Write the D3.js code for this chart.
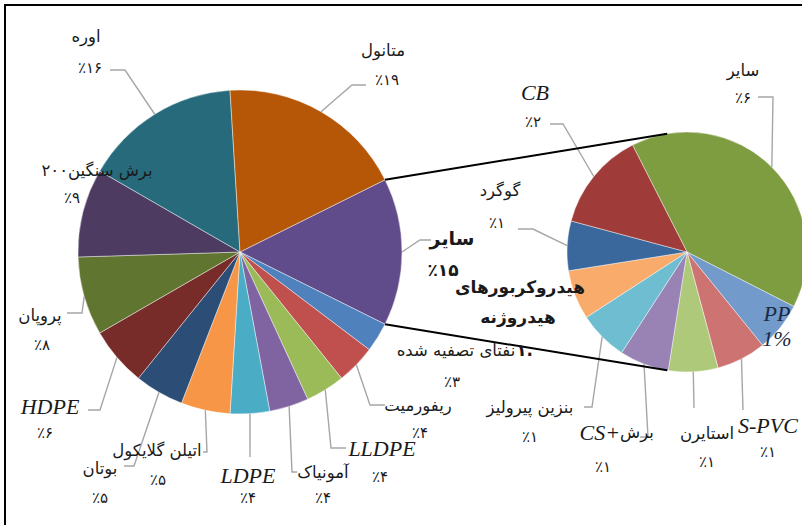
<!DOCTYPE html>
<html>
<head>
<meta charset="utf-8">
<script src="https://cdn.jsdelivr.net/npm/d3@7"></script>
<style>
  html, body { margin: 0; padding: 0; background: #fff; }
  svg { display: block; }
</style>
</head>
<body>
<svg id="chart"></svg>
<script>
const width = 802;
const height = 525;

// main pie, clockwise starting from the grouped slice
const mainNames = ["سایر", "نفتای تصفیه شده", "ریفورمیت", "LLDPE", "آمونیاک", "LDPE",
    "اتیلن گلایکول", "بوتان", "HDPE", "پروپان", "برش سنگین۲۰۰", "اوره", "متانول"];
const mainValues = [15, 3, 4, 4, 4, 4, 5, 5, 6, 8, 9, 16, 19];

// secondary pie (breakdown of the grouped slice), clockwise
const subNames = ["سایر", "PP", "S-PVC", "استایرن", "برش+CS", "بنزین پیرولیز",
    "هیدروکربورهای هیدروژنه", "گوگرد", "CB"];
const subValues = [6, 1, 1, 1, 1, 1, 1, 1, 2];

const mainColors = ["#604B8B", "#4F81BD", "#C0504D", "#9BBB59", "#8064A2", "#4BACC6",
    "#F79646", "#2C4D75", "#772C2A", "#5F7530", "#4D3B62", "#276A7C", "#B65708"];
const subColors = ["#7E9C40", "#729ACA", "#CD7371", "#AFC97A", "#9983B5", "#6FBDD1",
    "#F9AB6B", "#3A679C", "#9F3B38"];

const faDigits = "۰۱۲۳۴۵۶۷۸۹";
const fa = n => String(n).replace(/\d/g, d => faDigits[d]);
const pctText = v => "٪" + fa(v);

const rad = deg => deg * Math.PI / 180;

// label layout (centre of name line, centre of percent line, leader elbow points)
const mainLabelPos = [
    { name: [452, 238], pct: [443, 270], bold: true, leader: [[431, 240], [420, 240]] },
    { name: [456, 350], pct: [452, 382], leader: null },
    { name: [418, 405], pct: [420, 433], leader: [[385, 405], [370, 405]] },
    { name: [382, 448], pct: [380, 477], latin: true, leader: [[346, 448], [331, 448]] },
    { name: [323, 472], pct: [323, 498], leader: [[297, 472], [292, 472]] },
    { name: [248, 475], pct: [248, 498], latin: true, leader: [[250, 457]] },
    { name: [157, 450], pct: [158, 480], leader: [[203, 452], [207, 452]] },
    { name: [100, 468], pct: [100, 498], leader: [[124, 466], [134, 466]] },
    { name: [50, 406], pct: [45, 433], latin: true, leader: [[88, 410], [100, 410]] },
    { name: [40, 315], pct: [42, 345], leader: [[67, 313], [82, 313]] },
    { name: [97, 170], pct: [72, 198], leader: null },
    { name: [86, 36], pct: [90, 68], leader: [[110, 70], [125, 70]] },
    { name: [383, 50], pct: [387, 80], leader: [[366, 85], [352, 85]] }
];
const subLabelPos = [
    { name: [743, 70], pct: [743, 98], leader: [[758, 97], [773, 97]] },
    { name: [777, 313], pct: [777, 338], latin: true, inside: true, leader: null },
    { name: [768, 425], pct: [768, 452], latin: true, leader: [[743, 410]] },
    { name: [707, 433], pct: [707, 462], leader: [[694, 408]] },
    { name: [608, 432], pct: [603, 467], mixed: true, leader: [[640, 437], [648, 437]] },
    { name: [530, 407], pct: [530, 437], leader: [[584, 407], [592, 407]] },
    { name: [520, 287], pct: [533, 350], bold: true, split: true, leader: null },
    { name: [500, 190], pct: [497, 223], leader: [[518, 229], [533, 229]] },
    { name: [535, 92], pct: [533, 122], latin: true, leader: [[550, 124], [563, 124]] }
];

const svg = d3.select("#chart")
    .attr("width", width)
    .attr("height", height);

svg.append("rect")
    .attr("width", width).attr("height", height)
    .attr("fill", "#fff");

const mainCenter = [240, 252], mainR = 162;
const subCenter = [687, 252], subR = 120;

const mainTotal = d3.sum(mainValues);
const mainStart = Math.PI / 2 - (mainValues[0] / mainTotal) * Math.PI;
const subStart = rad(-27);

const mainArcs = d3.pie().sort(null)
    .startAngle(mainStart).endAngle(mainStart + 2 * Math.PI)(mainValues);
const subArcs = d3.pie().sort(null)
    .startAngle(subStart).endAngle(subStart + 2 * Math.PI)(subValues);

const mainArc = d3.arc().innerRadius(0).outerRadius(mainR);
const subArc = d3.arc().innerRadius(0).outerRadius(subR);
const mainEdge = d3.arc().innerRadius(mainR).outerRadius(mainR);
const subEdge = d3.arc().innerRadius(subR).outerRadius(subR);

const gMain = svg.append("g").attr("transform", `translate(${mainCenter})`);
gMain.selectAll("path")
    .data(mainArcs)
    .join("path")
    .attr("d", mainArc)
    .attr("fill", (d, i) => mainColors[i])
    .attr("stroke", "rgba(255,255,255,0.55)")
    .attr("stroke-width", 0.8);

const gSub = svg.append("g").attr("transform", `translate(${subCenter})`);
gSub.selectAll("path")
    .data(subArcs)
    .join("path")
    .attr("d", subArc)
    .attr("fill", (d, i) => subColors[i])
    .attr("stroke", "rgba(255,255,255,0.55)")
    .attr("stroke-width", 0.8);

// leader lines
const line = d3.line();
function drawLeaders(arcs, pos, edge, center) {
    arcs.forEach((d, i) => {
        const p = pos[i];
        if (!p.leader) return;
        const c = edge.centroid(d);
        const pts = p.leader.concat([[c[0] + center[0], c[1] + center[1]]]);
        svg.append("path")
            .attr("d", line(pts))
            .attr("fill", "none")
            .attr("stroke", "#A6A6A6")
            .attr("stroke-width", 1.4);
    });
}
drawLeaders(mainArcs, mainLabelPos, mainEdge, mainCenter);
drawLeaders(subArcs, subLabelPos, subEdge, subCenter);

// connector lines between grouped slice and secondary pie
const grp = mainArcs[0];
const pOnMain = a => [mainCenter[0] + mainR * Math.sin(a), mainCenter[1] - mainR * Math.cos(a)];
const pOnSub = a => [subCenter[0] + subR * Math.sin(a), subCenter[1] - subR * Math.cos(a)];
const connTop = [pOnMain(grp.startAngle), pOnSub(rad(-9.5))];
const connBot = [pOnMain(grp.endAngle), pOnSub(rad(189.5))];
[connTop, connBot].forEach(c => {
    svg.append("path")
        .attr("d", line(c))
        .attr("stroke", "#000")
        .attr("stroke-width", 2);
});

// labels
const faFont = "'DejaVu Sans', sans-serif";
const latinFont = "'Liberation Serif', 'Times New Roman', serif";
const nameSize = 16.5, pctSize = 15, latinSize = 22;

function addText(x, y, txt, opts = {}) {
    return svg.append("text")
        .attr("x", x).attr("y", y)
        .attr("dy", "0.35em")
        .attr("text-anchor", opts.anchor || "middle")
        .style("font-family", opts.latin ? latinFont : faFont)
        .style("font-size", (opts.size || nameSize) + "px")
        .style("font-style", opts.latin ? "italic" : "normal")
        .style("font-weight", opts.bold ? "bold" : "normal")
        .attr("fill", opts.color || "#1a1a1a")
        .text(txt);
}

mainNames.forEach((n, i) => {
    const p = mainLabelPos[i];
    addText(p.name[0], p.name[1], n, { latin: p.latin, bold: p.bold, size: p.latin ? latinSize : (p.bold ? 19 : nameSize) });
    addText(p.pct[0], p.pct[1], pctText(mainValues[i]), { bold: p.bold, size: p.bold ? 17 : pctSize });
});

subNames.forEach((n, i) => {
    const p = subLabelPos[i];
    if (p.inside) {
        addText(p.name[0], p.name[1], n, { latin: true, size: latinSize, color: "#1c2a44" });
        addText(p.pct[0], p.pct[1], subValues[i] + "%", { latin: true, size: latinSize, color: "#1c2a44" });
        return;
    }
    if (p.split) {
        const parts = n.split(" ");
        addText(p.name[0], p.name[1], parts[0], { bold: true, size: 17 });
        addText(p.name[0] - 2, p.name[1] + 30, parts[1], { bold: true, size: 17 });
        addText(p.pct[0], p.pct[1], fa(subValues[i]) + ".", { bold: true, size: 17, anchor: "end" });
        return;
    }
    if (p.mixed) {
        const [fa1, lat] = n.split("+");
        addText(p.name[0] + 12, p.name[1], lat + "+", { latin: true, size: latinSize, anchor: "end" });
        addText(p.name[0] + 12, p.name[1], fa1, { size: nameSize, anchor: "start" });
    } else {
        addText(p.name[0], p.name[1], n, { latin: p.latin, size: p.latin ? latinSize : nameSize });
    }
    addText(p.pct[0], p.pct[1], pctText(subValues[i]), { size: pctSize });
});

// frame (cropped: only top and left edges visible)
svg.append("path")
    .attr("d", line([[5, height], [5, 5], [width, 5]]))
    .attr("fill", "none")
    .attr("stroke", "#000")
    .attr("stroke-width", 2);
</script>
</body>
</html>
